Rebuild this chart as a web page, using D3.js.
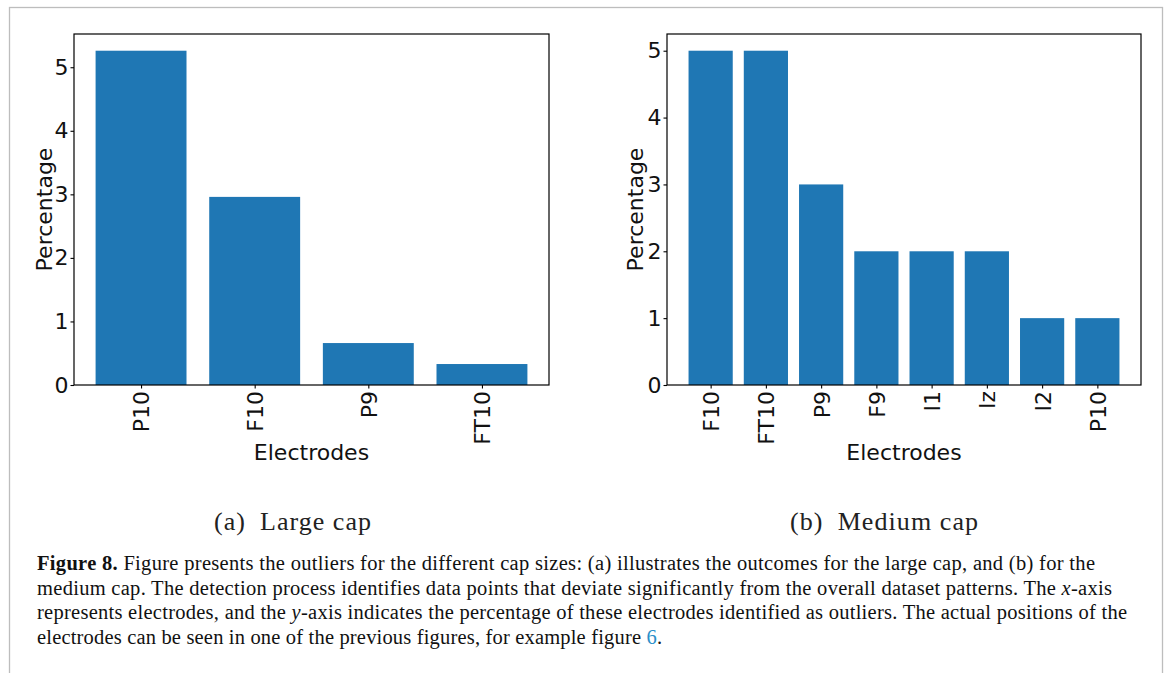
<!DOCTYPE html>
<html>
<head>
<meta charset="utf-8">
<script src="https://cdn.jsdelivr.net/npm/d3@7/dist/d3.min.js"></script>
<style>
  html, body { margin: 0; padding: 0; background: #fff; }
  svg { display: block; }
</style>
</head>
<body>
<svg id="fig" width="1167" height="673"></svg>
<script>
// Outlier percentages per electrode, one panel per cap size
const largeCapElectrodes = ["P10", "F10", "P9", "FT10"];
const largeCapValues = [5.26, 2.96, 0.66, 0.33];
const largeCapTicks = [0, 1, 2, 3, 4, 5];

const mediumCapElectrodes = ["F10", "FT10", "P9", "F9", "I1", "Iz", "I2", "P10"];
const mediumCapValues = [5, 5, 3, 2, 2, 2, 1, 1];
const mediumCapTicks = [0, 1, 2, 3, 4, 5];

const subCaptions = ["(a)\u2002Large cap", "(b)\u2002Medium cap"];

const BAR = "#1f77b4";
const SANS = "'DejaVu Sans', sans-serif";
const SERIF = "'Liberation Serif', 'Times New Roman', serif";
const FS = 22;

const svg = d3.select("#fig");

// page frame
svg.append("rect")
  .attr("x", 9.5).attr("y", 7.5)
  .attr("width", 1153).attr("height", 700)
  .attr("fill", "none").attr("stroke", "#bdbdbd").attr("stroke-width", 1.3);

function barPanel(opts) {
  const { left, right, top, bottom, names, values, ticks, labelX } = opts;
  const n = names.length;
  // matplotlib-style limits: bars of width 0.8, 5% margins
  const span = (n - 1) + 0.8;
  const x = d3.scaleLinear()
    .domain([-0.4 - 0.05 * span, n - 1 + 0.4 + 0.05 * span])
    .range([left, right]);
  const yMax = d3.max(values) * 1.05;
  const y = d3.scaleLinear().domain([0, yMax]).range([bottom, top]);

  const g = svg.append("g");

  g.selectAll("rect.bar")
    .data(values)
    .join("rect")
    .attr("class", "bar")
    .attr("x", (d, i) => x(i - 0.4))
    .attr("width", (d, i) => x(i + 0.4) - x(i - 0.4))
    .attr("y", d => y(d))
    .attr("height", d => y(0) - y(d))
    .attr("fill", BAR);

  // y axis
  const ya = g.append("g")
    .attr("transform", `translate(${left},0)`)
    .call(d3.axisLeft(y).tickValues(ticks).tickFormat(d3.format("d")).tickSize(3.5).tickPadding(2));
  ya.select(".domain").remove();
  ya.selectAll("line").attr("stroke", "#000").attr("stroke-width", 1.1);
  ya.selectAll("text").attr("font-family", SANS).attr("font-size", FS).attr("fill", "#111");

  // x axis with vertical labels
  const xa = g.append("g")
    .attr("transform", `translate(0,${bottom})`)
    .call(d3.axisBottom(x).tickValues(d3.range(n)).tickFormat(i => names[i]).tickSize(3.5).tickPadding(4));
  xa.select(".domain").remove();
  xa.selectAll("line").attr("stroke", "#000").attr("stroke-width", 1.1);
  xa.selectAll("text")
    .attr("font-family", SANS).attr("font-size", FS).attr("fill", "#111")
    .attr("transform", "rotate(-90)")
    .attr("x", -6).attr("y", 0).attr("dy", "0.36em")
    .attr("text-anchor", "end");

  // frame
  g.append("rect")
    .attr("x", left).attr("y", top)
    .attr("width", right - left).attr("height", bottom - top)
    .attr("fill", "none").attr("stroke", "#000").attr("stroke-width", 1.2);

  // axis titles
  g.append("text")
    .attr("x", (left + right) / 2).attr("y", 460)
    .attr("text-anchor", "middle")
    .attr("font-family", SANS).attr("font-size", FS).attr("fill", "#111")
    .text("Electrodes");
  g.append("text")
    .attr("transform", `translate(${labelX},${(top + bottom) / 2}) rotate(-90)`)
    .attr("text-anchor", "middle")
    .attr("font-family", SANS).attr("font-size", FS).attr("fill", "#111")
    .text("Percentage");
}

barPanel({ left: 74, right: 549, top: 34, bottom: 385,
  names: largeCapElectrodes, values: largeCapValues, ticks: largeCapTicks, labelX: 52 });
barPanel({ left: 667, right: 1141, top: 34, bottom: 385,
  names: mediumCapElectrodes, values: mediumCapValues, ticks: mediumCapTicks, labelX: 643 });

// sub-figure captions
[[292.5, 157, subCaptions[0]], [884, 188, subCaptions[1]]].forEach(([cx, w, t]) => {
  svg.append("text")
    .attr("x", cx - w / 2).attr("y", 530)
    .attr("font-family", SERIF).attr("font-size", 26).attr("fill", "#222")
    .attr("textLength", w).attr("lengthAdjust", "spacing")
    .text(t);
});

// figure caption
const capLines = [
  { w: 1058, parts: [["Figure 8.", "b"], [" Figure presents the outliers for the different cap sizes: (a) illustrates the outcomes for the large cap, and (b) for the"]] },
  { w: 1075, parts: [["medium cap. The detection process identifies data points that deviate significantly from the overall dataset patterns. The "], ["x", "i"], ["-axis"]] },
  { w: 1090, parts: [["represents electrodes, and the "], ["y", "i"], ["-axis indicates the percentage of these electrodes identified as outliers. The actual positions of the"]] },
  { w: 625, parts: [["electrodes can be seen in one of the previous figures, for example figure "], ["6", "link"], ["."]] }
];
const capBase = [570, 594.5, 619, 643.5];
capLines.forEach((ln, k) => {
  const t = svg.append("text")
    .attr("x", 37).attr("y", capBase[k])
    .attr("font-family", SERIF).attr("font-size", 20.5).attr("fill", "#111")
    .attr("textLength", ln.w).attr("lengthAdjust", "spacing");
  ln.parts.forEach(([s, st]) => {
    const sp = t.append("tspan").text(s);
    if (st === "b") sp.attr("font-weight", "bold");
    if (st === "i") sp.attr("font-style", "italic");
    if (st === "link") sp.attr("fill", "#2a8fc9");
  });
});
</script>
</body>
</html>
